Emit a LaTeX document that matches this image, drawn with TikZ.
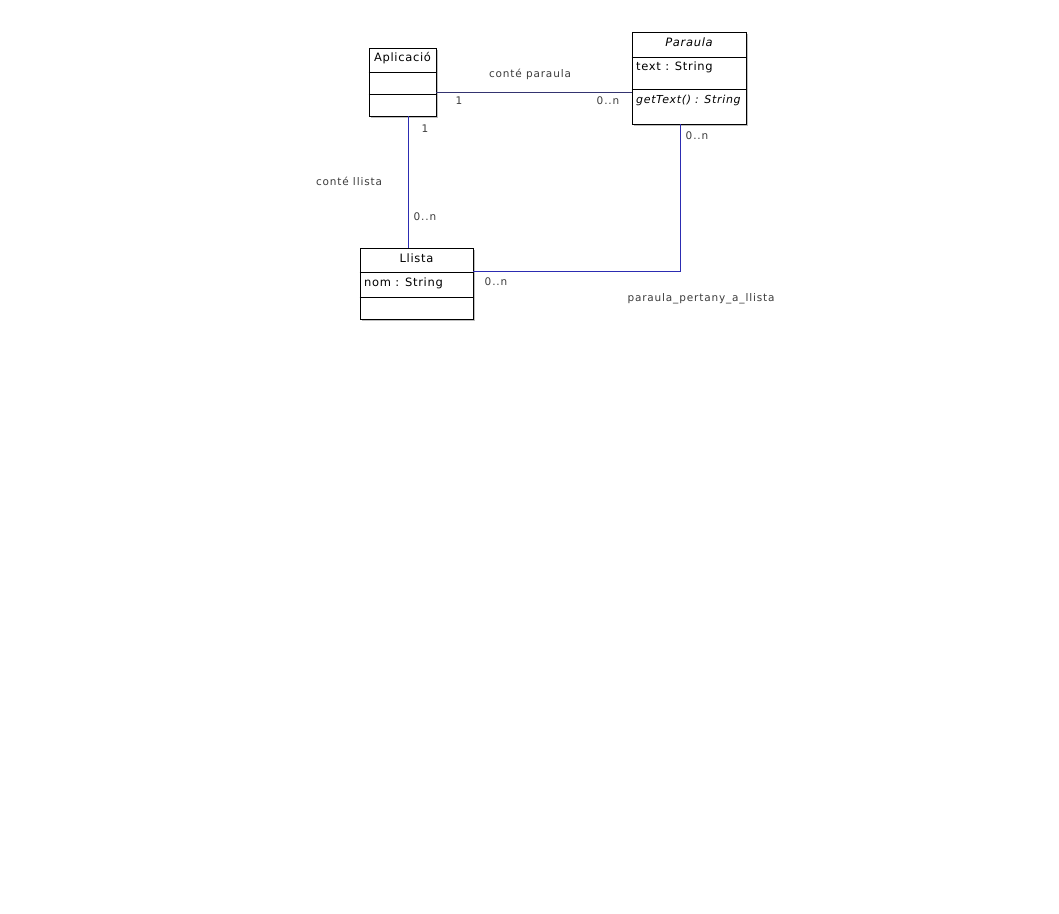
\documentclass[tikz,border=0pt]{standalone}
\usepackage{fontspec}
\setmainfont{DejaVu Sans}
\newfontfamily\classfont[LetterSpace=6]{DejaVu Sans}
\newfontfamily\labelfont[LetterSpace=8]{DejaVu Sans}
\usetikzlibrary{positioning}

\definecolor{linknavy}{RGB}{52,52,112}
\definecolor{linkblue}{RGB}{44,44,178}
\definecolor{labelgray}{RGB}{60,60,60}

\begin{document}
\begin{tikzpicture}[x=1pt,y=-1pt]
		\tikzset{classbox/.style = {shape=rectangle, draw, fill=white, inner sep=0pt, line width=0.8pt}}
		\tikzset{shadowbox/.style = {fill=black!25, draw=none}}
		\tikzset{title/.style = {font=\classfont\fontsize{11.5}{13}\selectfont, inner sep=0pt}}
		\tikzset{member/.style = {font=\classfont\fontsize{11.5}{13}\selectfont, inner sep=0pt, anchor=west}}
		\tikzset{rolelabel/.style = {font=\labelfont\fontsize{10.5}{12}\selectfont, text=labelgray, inner sep=0pt}}

		\useasboundingbox[fill=white] (0,0) rectangle (1059,913);

		% shadows
		\fill[shadowbox] (371,50) rectangle (438,118);
		\fill[shadowbox] (634,34) rectangle (748,126);
		\fill[shadowbox] (362,250) rectangle (475,321);

		% classes
		\node[classbox, minimum width=67, minimum height=68] (aplicacio) at (402.5,82) {};
		\node[classbox, minimum width=114, minimum height=92] (paraula) at (689,78) {};
		\node[classbox, minimum width=113, minimum height=71] (llista) at (416.5,283.5) {};

		\draw (aplicacio.west |- 0,72) -- (aplicacio.east |- 0,72);
		\draw (aplicacio.west |- 0,94) -- (aplicacio.east |- 0,94);
		\draw (paraula.west |- 0,57) -- (paraula.east |- 0,57);
		\draw (paraula.west |- 0,89) -- (paraula.east |- 0,89);
		\draw (llista.west |- 0,272) -- (llista.east |- 0,272);
		\draw (llista.west |- 0,297) -- (llista.east |- 0,297);

		\node[title] (aplicacio_t) at (402.5,58) {Aplicació};
		\node[title] (paraula_t) at (689,42) {\itshape Paraula};
		\node[member] (paraula_a) at (636,67) {text : String};
		\node[member, font=\classfont\fontsize{11}{13}\selectfont] (paraula_m) at (636,100) {\itshape getText() : String};
		\node[title] (llista_t) at (416.5,258) {Llista};
		\node[member] (llista_a) at (364,283) {nom : String};

		% associacions
		\draw[linknavy, line width=0.8pt] (aplicacio.east |- 0,92) -- (paraula.west |- 0,92);
		\draw[linkblue, line width=0.8pt] (aplicacio.south -| 408,0) -- (llista.north -| 408,0);
		\draw[linkblue, line width=0.8pt] (paraula.south -| 680,0) |- (llista.east |- 0,271);

		\node[rolelabel] (cp) at (530,74) {conté paraula};
		\node[rolelabel] (cp_1) at (459,101) {1};
		\node[rolelabel] (cp_n) at (608,101) {0..n};

		\node[rolelabel] (cl) at (349,181) {conté llista};
		\node[rolelabel] (cl_1) at (425,129) {1};
		\node[rolelabel] (cl_n) at (425,217) {0..n};

		\node[rolelabel] (pl) at (701,299) {paraula\_pertany\_a\_llista};
		\node[rolelabel] (pl_p) at (697,136) {0..n};
		\node[rolelabel] (pl_l) at (496,282) {0..n};
\end{tikzpicture}
\end{document}
